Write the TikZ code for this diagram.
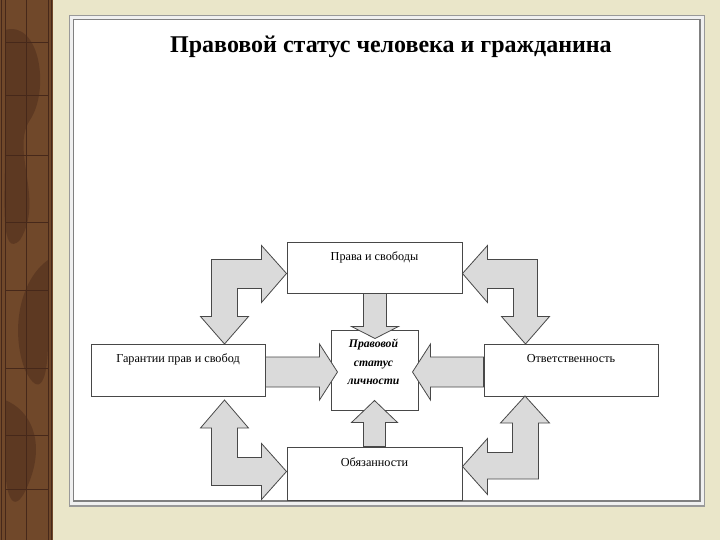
\documentclass[tikz,border=0pt]{standalone}
\usepackage{fontspec}
\setmainfont{Liberation Serif}
\usetikzlibrary{calc}
\definecolor{paper}{RGB}{234,230,201}
\definecolor{bark}{RGB}{112,72,42}
\definecolor{barkdark}{RGB}{70,40,26}
\definecolor{arrowfill}{RGB}{218,218,218}
\definecolor{edge}{RGB}{72,72,72}
\tikzset{
	box/.style 2 args={draw=edge,line width=1pt,fill=white,minimum width=#1,minimum height=#2,inner sep=0pt},
	boxtext/.style={label={[anchor=center,yshift=-15.5pt,font=\fontsize{12.2}{14}\selectfont]north:#1}},
	barrow/.style={draw=edge,fill=arrowfill,line width=0.8pt,line join=miter}
}

\begin{document}
\begin{tikzpicture}[x=1pt,y=-1pt]
	\useasboundingbox (0,0) rectangle (720,540);
	\fill[paper] (0,0) rectangle (720,540);
	% left strip
	\fill[bark] (0,0) rectangle (53,540);
	\fill[barkdark,opacity=.45] (5,30) .. controls (40,20) and (50,90) .. (30,120) .. controls (10,150) and (45,200) .. (20,240) .. controls (0,260) and (5,200) .. (5,150) -- cycle;
	\fill[barkdark,opacity=.45] (48,260) .. controls (20,280) and (10,330) .. (25,370) .. controls (40,400) and (48,380) .. (48,340) -- cycle;
	\fill[barkdark,opacity=.45] (5,400) .. controls (30,410) and (45,440) .. (30,480) .. controls (15,520) and (5,500) .. (5,460) -- cycle;
	\draw[barkdark,line width=1.5pt] (1.5,0) -- (1.5,540) (51.5,0) -- (51.5,540);
	\draw[barkdark,line width=0.8pt] (5,0) -- (5,540) (48,0) -- (48,540) (26,0) -- (26,540);
	\foreach \y in {42,95,155,222,290,368,435,489}
		\draw[barkdark,line width=0.8pt] (5,\y) -- (48,\y);
	% panel
	\draw[gray!80,line width=1.2pt,fill=gray!12] (69.5,15.5) rectangle (704.5,506);
	\draw[gray,line width=1.2pt,fill=white] (73.5,19.5) rectangle (700,501);

	\node[font=\bfseries\fontsize{24}{27}\selectfont] (title) at (391,47) {Правовой статус человека и гражданина};

	\node[box={175pt}{51pt},boxtext=Права и свободы] (rights) at (374.5,267.5) {};
	\node[box={174pt}{52pt},boxtext=Гарантии прав и свобод] (guar) at (178,370) {};
	\node[box={174pt}{52pt},boxtext=Ответственность] (resp) at (571,370) {};
	\node[box={175pt}{53pt},boxtext=Обязанности] (duty) at (374.5,473.5) {};
	\node[box={87pt}{80pt}] (status) at (374.5,370) {};
	\node[font=\bfseries\itshape\fontsize{11.7}{18.5}\selectfont,align=center] (statustext) at (373.5,362) {Правовой\\статус\\личности};

	% arrows into the centre
	\draw[barrow] (rights.south) ++(-11,0) -- ++(0,33) -- ++(-12,0) -- ++(23.5,12) -- ++(23.5,-12) -- ++(-12,0) -- ++(0,-33) -- cycle;
	\draw[barrow] (duty.north) ++(-11,0) -- ++(0,-24) -- ++(-12,0) -- ++(23,-22) -- ++(23,22) -- ++(-12,0) -- ++(0,24) -- cycle;
	\draw[barrow] (guar.east) ++(0,-13) -- ++(54,0) -- ++(0,-13) -- ++(18,28) -- ++(-18,28) -- ++(0,-13) -- ++(-54,0) -- cycle;
	\draw[barrow] (resp.west) ++(0,-13) -- ++(-53,0) -- ++(0,-13) -- ++(-18,28) -- ++(18,28) -- ++(0,-13) -- ++(53,0) -- cycle;

	% two-headed corner arrows
	\draw[barrow] ($(rights.west)+(0,6)$) -- ++(-25,-28) -- ++(0,14) -- ++(-50,0) -- ++(0,57) -- ++(-11,0) -- ++(24,27.5) -- ++(24,-27.5) -- ++(-11,0) -- ++(0,-28) -- ++(24,0) -- ++(0,14) -- cycle;
	\draw[barrow] ($(rights.east)+(0,6)$) -- ++(25,-28) -- ++(0,14) -- ++(50,0) -- ++(0,57) -- ++(12,0) -- ++(-24,27.5) -- ++(-24,-27.5) -- ++(12,0) -- ++(0,-28) -- ++(-26,0) -- ++(0,14) -- cycle;
	\draw[barrow] ($(duty.west)+(0,-2)$) -- ++(-25,-28) -- ++(0,14) -- ++(-24,0) -- ++(0,-29.5) -- ++(11,0) -- ++(-24,-28) -- ++(-24,28) -- ++(11,0) -- ++(0,57.5) -- ++(50,0) -- ++(0,14) -- cycle;
	\draw[barrow] ($(duty.east)+(0,-7)$) -- ++(25,-28) -- ++(0,14) -- ++(25,0) -- ++(0,-29.5) -- ++(-12,0) -- ++(24.5,-27) -- ++(24.5,27) -- ++(-11,0) -- ++(0,56) -- ++(-51,0) -- ++(0,15.5) -- cycle;
\end{tikzpicture}
\end{document}
